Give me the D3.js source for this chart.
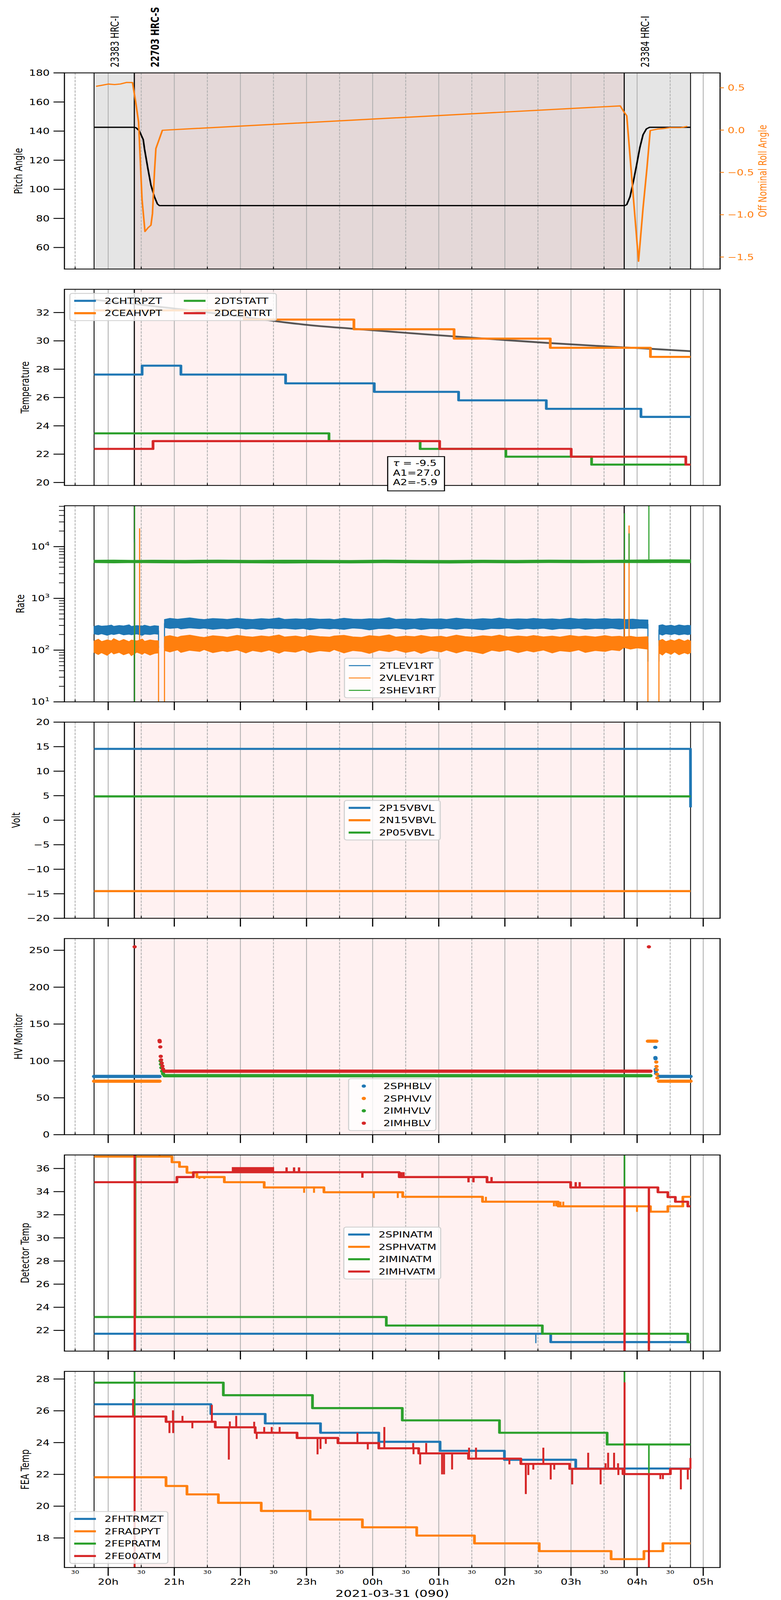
<!DOCTYPE html>
<html>
<head>
<meta charset="utf-8">
<title>HRC monitor</title>
<script src="https://cdn.jsdelivr.net/npm/d3@7/dist/d3.min.js"></script>
<style>
html, body { margin: 0; padding: 0; background: #fff; overflow: hidden; }
svg { display: block; }
text { font-family: "DejaVu Sans", "Noto Sans", sans-serif; }
</style>
</head>
<body>
<svg id="fig" width="2000" height="5400"></svg>
<script>
// all times are minutes after 2021-03-30 20:00 UT
var T0 = Date.UTC(2021, 2, 30, 20, 0, 0);
function tm(m){ return new Date(T0 + m * 60000); }

var T_START = -39.7, T_STOP = 555.3, DATA_END = 528.5;
var OBS = [
  { label: "23383 HRC-I", start: -12.8, stop: 23.6, bold: false },
  { label: "22703 HRC-S", start: 23.85, stop: 468.3, bold: true },
  { label: "23384 HRC-I", start: 468.3, stop: 528.5, bold: false }
];
var Y_LABELS = ["Pitch Angle", "Temperature", "Rate", "Volt", "HV Monitor", "Detector Temp", "FEA Temp"];
var X_LABEL = "2021-03-31 (090)";

// panel 1 : pitch / off nominal roll
var PITCH_T = [-12.8, 23.7, 25.3, 28.2, 31.8, 33.0, 36.1, 38.8, 42.0, 44.7, 46.5, 468.9, 470.6, 473.6, 476.5, 479.5, 482.5, 485.4, 488.4, 491.3, 528.5];
var PITCH_V = [142.6, 142.6, 142.3, 140.2, 134.2, 127.6, 114.0, 102.9, 94.8, 89.9, 88.8, 88.8, 89.5, 94.9, 105.0, 116.5, 128.7, 137.5, 141.5, 142.6, 142.6];
var ROLL_T = [-11.0, 0, 5.8, 11.1, 16.8, 22.1, 25.3, 27.6, 30.7, 33.4, 36.1, 38.8, 40.2, 42.0, 43.3, 45.6, 49.2, 464.7, 467.7, 470.6, 481.3, 485.4, 488.9, 491.9, 498.4, 503.1, 509.6, 519.7, 525.6];
var ROLL_V = [0.517, 0.544, 0.538, 0.545, 0.563, 0.562, 0.303, 0.093, -0.816, -1.199, -1.155, -1.124, -0.986, -0.496, -0.218, -0.134, -0.002, 0.286, 0.222, 0.169, -1.55, -0.92, -0.455, -0.006, 0.012, 0.017, 0.029, 0.029, 0.044];

// panel 2 : temperatures (level changes)
var CHTRPZT = [[-12.8, 27.62], [30.8, 28.25], [66.0, 27.62], [161.0, 27.0], [241.5, 26.4], [318.0, 25.8], [397.6, 25.2], [483.5, 24.63]];
var CEAHVPT = [[-12.8, 32.15], [123.5, 31.5], [223.0, 30.82], [313.9, 30.16], [401.2, 29.51], [492.1, 28.87]];
var DTSTATT = [[-12.8, 23.47], [200.4, 22.92], [283.1, 22.37], [360.9, 21.82], [438.7, 21.26]];
var DCENTRT = [[-12.8, 22.37], [40.7, 22.92], [300.8, 22.37], [420.2, 21.82], [524.2, 21.26]];
var MODEL_T = [-12.8, 24.0, 60.2, 96.3, 146.1, 177.8, 223.0, 286.3, 354.1, 401.2, 444.6, 492.1, 528.5];
var MODEL_V = [32.9, 32.6, 32.28, 31.95, 31.45, 31.15, 30.85, 30.47, 30.09, 29.84, 29.64, 29.44, 29.27];
var FIT_TEXT = ["= -9.5", "A1=27.0", "A2=-5.9"];

// panel 3 : rates, noisy bands as [t, low, high]
var TLEV_A = [[-12.8,205,288],[-9,198,301],[-6,207,291],[-1,193,297],[3,204,306],[5,199,289],[10,209,300],[14,196,294],[19,202,309],[21,197,288],[26,205,299],[31,192,293],[33,203,304],[38,199,287],[42,206,298],[45.7,201,292]];
var TLEV_B = [[51.1,272,392],[56,261,412],[63,270,396],[66,256,404],[74,268,421],[83,259,398],[87,266,392],[95,251,409],[104,263,401],[108,257,394],[117,269,415],[125,254,399],[131,262,392],[139,249,407],[146,266,398],[155,258,419],[160,264,393],[170,253,404],[177,261,397],[183,247,410],[192,265,396],[201,256,402],[205,262,390],[214,250,414],[222,266,399],[230,259,395],[237,245,406],[246,262,400],[255,257,425],[261,266,394],[270,252,403],[278,263,397],[284,248,411],[293,261,398],[302,256,404],[307,266,393],[316,251,416],[324,264,400],[331,257,394],[340,246,408],[348,262,399],[355,258,418],[363,266,395],[372,250,404],[380,263,398],[386,255,411],[395,264,396],[403,249,403],[410,261,394],[419,256,414],[427,265,399],[433,252,405],[442,262,396],[451,257,409],[457,266,398],[464,254,402],[470,262,392],[476,258,399],[482,266,388],[489.8,262,384]];
var TLEV_C = [[499.8,205,300],[503,194,311],[506,206,295],[511,198,304],[514,207,292],[518,196,308],[523,204,297],[526,198,303],[528.5,203,298]];
var VLEV_A = [[-12.8,90,150],[-9,82,163],[-6,89,147],[-1,79,158],[3,92,152],[5,84,167],[10,90,149],[14,81,161],[19,88,146],[21,78,157],[26,91,151],[31,83,164],[33,89,148],[38,80,158],[42,86,153],[45.7,88,152]];
var VLEV_B = [[51.1,98,182],[56,92,191],[63,101,177],[66,90,186],[74,99,195],[83,94,181],[87,102,176],[95,89,190],[104,97,183],[108,93,178],[117,101,194],[125,88,184],[131,98,179],[139,92,189],[146,100,182],[155,87,197],[160,96,180],[170,91,188],[177,101,178],[183,89,192],[192,97,183],[201,93,179],[205,102,188],[214,88,194],[222,98,181],[230,94,177],[237,86,191],[246,99,184],[255,93,198],[261,101,179],[270,90,187],[278,97,182],[284,86,193],[293,99,180],[302,92,186],[307,100,178],[316,88,195],[324,98,183],[331,93,179],[340,85,190],[348,99,184],[355,94,196],[363,101,180],[372,89,188],[380,98,182],[386,92,192],[395,100,181],[403,88,187],[410,97,179],[419,93,193],[427,101,183],[433,90,188],[442,98,180],[451,94,191],[457,101,182],[464,97,186],[468,112,180],[474,104,186],[480,110,178],[489.8,104,182]];
var VLEV_C = [[499.8,88,152],[503,80,162],[506,91,147],[511,83,158],[514,92,151],[518,81,164],[523,89,149],[526,84,159],[528.5,89,150]];
var SHEV = [[-12.8,4880,5480],[5,4820,5520],[24,4900,5450],[40,4850,5500],[70,4800,5460],[100,4870,5530],[130,4820,5440],[160,4780,5500],[190,4850,5470],[220,4800,5420],[250,4870,5510],[280,4830,5460],[310,4790,5430],[340,4860,5500],[370,4820,5450],[400,4880,5520],[430,4840,5470],[460,4900,5500],[490,4860,5560],[510,4900,5600],[528.5,4880,5580]];
// spikes as [t, from, to]
var TLEV_SPIKES = [[24.0, 240, 14000], [45.7, 240, 110], [51.1, 110, 330], [489.8, 320, 60], [499.8, 60, 250]];
var VLEV_SPIKES = [[24.0, 120, 12000], [28.5, 120, 22600], [45.7, 120, 1], [51.1, 1, 140], [468.6, 140, 4900], [472.7, 140, 25600], [489.8, 140, 1], [499.8, 1, 120]];
var SHEV_SPIKES = [[24.0, 1, 1e6], [468.6, 5200, 44000], [472.7, 5200, 18000], [490.7, 5200, 1e6]];

// panel 4 : voltages
var P15VBVL = [[-12.8, 14.55], [528.4, 14.55], [528.5, 2.63]];
var N15VBVL = [[-12.8, -14.46], [528.5, -14.46]];
var P05VBVL = [[-12.8, 4.86], [528.5, 4.86]];

// panel 5 : HV monitors, dense runs [t0, t1, v] and single samples [t, v]
var SPHBLV_RUNS = [[-12.8, 46.6, 79.0], [499.8, 528.5, 79.0]];
var SPHBLV_PTS = [[496.5,118.4],[496.6,104.5],[496.7,103],[496.9,88.5],[497.0,86],[497.2,83]];
var SPHVLV_RUNS = [[-12.8, 46.6, 72.5], [489.8, 497.5, 126.8], [499.8, 528.5, 72.5]];
var SPHVLV_PTS = [[497.4,98.5],[497.6,92.5],[497.8,88],[498.1,82],[498.4,77]];
var IMHVLV_RUNS = [[51.1, 492.1, 80.0]];
var IMHVLV_PTS = [[47.6,100],[47.9,95.5],[48.3,90.8],[49.0,86.1],[49.8,82.5]];
var IMHBLV_RUNS = [[51.1, 492.1, 86.1]];
var IMHBLV_PTS = [[24.0,254.7],[46.6,127.7],[46.8,126.0],[47.3,119.0],[47.7,106.2],[48.0,101.4],[48.6,97.1],[49.2,93.0],[49.8,89.0],[490.7,254.7]];

// panel 6 : detector temps (levels + spikes [t, v])
var SPINATM = [[-12.8, 21.71], [401.6, 20.99]];
var SPINATM_SPK = [[24.9, 0], [388.1, 20.9]];
var SPHVATM = [[-12.8,37.03],[57.9,36.55],[64.7,36.15],[71.5,35.64],[80.5,35.26],[105.4,34.82],[141.6,34.36],[195.8,33.95],[267.3,33.55],[339.7,33.13],[408.4,32.73],[492.1,32.27],[507.9,32.73],[521.5,33.55]];
var SPHVATM_SPK = [[46.6,37.6],[82.8,35.1],[87.3,35.1],[177.8,33.9],[186.8,33.9],[241.1,33.45],[262.8,33.45],[342.8,33.55],[404.5,32.73],[406.5,32.73],[410.5,33.13],[413,33.13],[479.9,32.25]];
var IMINATM = [[-12.8, 23.16], [252.4, 22.42], [394.0, 21.71], [526.0, 20.99]];
var IMINATM_SPK = [[24.9, 45], [468.6, 45]];
var IMHVATM = [[-12.8,34.82],[62.4,35.26],[77.3,35.68],[264.1,35.26],[343.8,34.82],[419.7,34.36],[498.9,33.95],[507.9,33.53],[514.7,33.13],[526.0,32.73]];
var IMHVATM_SPK = [[24.0,45],[24.1,0],[161.9,36.1],[168.7,36.1],[173.2,36.1],[230.7,35.2],[266,35.68],[268,35.68],[327.0,34.8],[331.5,34.8],[347.9,35.26],[424.3,34.82],[427.9,34.82],[468.6,0],[490.7,0]];
var IMHVATM_NOISE = [[112.2, 150.6, 35.62, 36.12]];

// panel 7 : FEA temps
var FHTRMZT = [[-12.8,26.41],[93.2,25.80],[142.5,25.21],[192.7,24.62],[245.6,24.05],[301.2,23.48],[359.6,22.92],[424.3,22.37]];
var FRADPYT = [[-12.8,21.82],[52.5,21.27],[71.5,20.74],[100.0,20.21],[138.9,19.70],[183.2,19.16],[230.7,18.67],[280.0,18.15],[332.4,17.66],[391.2,17.17],[456.4,16.67],[486.2,17.17],[503.4,17.66]];
var FEPRATM = [[-12.8,27.77],[104.5,26.98],[185.4,26.17],[266.9,25.40],[355.1,24.62],[452.8,23.88]];
var FEPRATM_SPK = [[24.0,29.5],[24.1,10],[468.6,29.5],[490.7,22.07]];
var FE00ATM = [[-12.8,25.64],[52.5,25.31],[97.2,24.96],[133.4,24.62],[171.4,24.29],[208.5,23.97],[245.6,23.64],[281.8,23.32],[327.0,22.99],[374.5,22.66],[418.8,22.35],[467.2,22.02],[510.2,22.35]];
var FE00ATM_SPK = [[22.6,26.74],[24.0,10],[55.6,24.6],[58.8,26.03],[59.0,24.6],[67.4,25.68],[76.4,24.9],[94.1,26.37],[109.5,22.93],[110.4,25.33],[116.2,25.68],[132.5,25.31],[134.8,24.23],[141.6,24.98],[148.4,24.98],[155.6,24.98],[190.0,23.26],[192.7,23.6],[197.2,24.34],[197.5,23.92],[226.2,24.62],[235.6,23.57],[250.6,24.98],[276.8,23.97],[277.1,23.27],[283.1,22.63],[288.6,23.97],[303.0,22.0],[304.8,22.0],[312.1,22.31],[327.5,23.68],[333.8,23.68],[364.1,22.63],[379.0,20.76],[381.3,21.96],[385.8,22.3],[394.9,23.68],[401.6,21.68],[404.8,22.3],[421.1,21.37],[435.6,23.36],[446.9,21.37],[451.4,22.7],[453.7,23.36],[459.1,23.36],[462.7,22.7],[463.0,21.96],[468.6,27.79],[490.7,10],[501.1,21.7],[503.4,21.7],[519.7,21.06],[526.0,21.68],[528.4,23.03]];

// ---------- layout ----------
var LEFT = 165, RIGHT = 1844, TOP0 = 246, PH = 662, STEP = 730.4;
var FS = 27.8, TICK = 28, PAD = 9.7;
var BLUE = "#1f77b4", ORANGE = "#ff7f0e", GREEN = "#2ca02c", RED = "#d62728";

var svg = d3.select("#fig");
// the drawing is laid out on a 2000x5400 grid; stretch it onto the real viewport
var VW = window.innerWidth || 2000, VH = window.innerHeight || 5400;
svg.attr("viewBox", "0 0 2000 5400").attr("preserveAspectRatio", "none").attr("width", VW).attr("height", VH);
var defs = svg.append("defs");
var x = d3.scaleUtc().domain([tm(T_START), tm(T_STOP)]).range([LEFT, RIGHT]);
var halfHours = x.ticks(d3.utcMinute.every(30));
function X(t){ return x(tm(t)); }

function makePanel(i, y){
  var top = TOP0 + i * STEP, bot = top + PH;
  y.range([bot, top]);
  var g = svg.append("g");
  OBS.forEach(function(o){
    var fill = i === 0 ? (o.bold ? "#e4d8d8" : "#e5e5e5") : (o.bold ? "#fff1f1" : null);
    if (!fill) return;
    g.append("rect").attr("x", X(o.start)).attr("y", top)
      .attr("width", X(o.stop) - X(o.start)).attr("height", PH).attr("fill", fill);
  });
  halfHours.forEach(function(d){
    var onHour = d.getUTCMinutes() === 0;
    g.append("line").attr("x1", x(d)).attr("x2", x(d)).attr("y1", top).attr("y2", bot)
      .attr("stroke", "#b0b0b0").attr("stroke-width", 2.2)
      .attr("stroke-dasharray", onHour ? null : "8.2,3.6");
  });
  OBS.forEach(function(o){
    [o.start, o.stop].forEach(function(t){
      g.append("line").attr("x1", X(t)).attr("x2", X(t)).attr("y1", top).attr("y2", bot)
        .attr("stroke", "#000").attr("stroke-width", 2.2);
    });
  });
  var cid = "clip" + i;
  defs.append("clipPath").attr("id", cid).append("rect")
    .attr("x", LEFT).attr("y", top).attr("width", RIGHT - LEFT).attr("height", PH);
  var plot = g.append("g").attr("clip-path", "url(#" + cid + ")");
  return { i: i, g: g, plot: plot, top: top, bot: bot, y: y };
}

function finish(p, majorTicks, labels){
  var g = p.g;
  g.append("rect").attr("x", LEFT).attr("y", p.top).attr("width", RIGHT - LEFT).attr("height", PH)
    .attr("fill", "none").attr("stroke", "#000").attr("stroke-width", 2.8);
  halfHours.forEach(function(d){
    var onHour = d.getUTCMinutes() === 0;
    if (!onHour) {
      g.append("line").attr("x1", x(d)).attr("x2", x(d)).attr("y1", p.bot - 8).attr("y2", p.bot)
        .attr("stroke", "#000").attr("stroke-width", 2.2);
      if (labels) g.append("text").attr("x", x(d)).attr("y", p.bot + PAD + 12.2)
        .attr("text-anchor", "middle").attr("font-size", 16.7).text(d3.utcFormat("%M")(d));
    } else {
      if (majorTicks) g.append("line").attr("x1", x(d)).attr("x2", x(d)).attr("y1", p.bot).attr("y2", p.bot + TICK)
        .attr("stroke", "#000").attr("stroke-width", 3);
      if (labels) g.append("text").attr("x", x(d)).attr("y", p.bot + TICK + PAD + 20.3)
        .attr("text-anchor", "middle").attr("font-size", FS).text(d3.utcFormat("%Hh")(d));
    }
  });
}

function yAxis(p, ticks, fmt, label, minor){
  var ax = p.g.append("g");
  if (minor) minor.forEach(function(v){
    ax.append("line").attr("x1", LEFT - 14).attr("x2", LEFT).attr("y1", p.y(v)).attr("y2", p.y(v))
      .attr("stroke", "#000").attr("stroke-width", 2.2);
  });
  ticks.forEach(function(v){
    var yy = p.y(v);
    ax.append("line").attr("x1", LEFT - TICK).attr("x2", LEFT).attr("y1", yy).attr("y2", yy)
      .attr("stroke", "#000").attr("stroke-width", 3);
    var t = ax.append("text").attr("class", "tl").attr("x", LEFT - TICK - PAD).attr("y", yy).attr("dy", "0.36em")
      .attr("text-anchor", "end").attr("font-size", FS);
    fmt(t, v);
  });
  var minX = d3.min(ax.selectAll("text.tl").nodes(), function(n){ return n.getBBox().x; });
  p.g.append("text").attr("transform", "translate(" + (minX - 17.6) + "," + ((p.top + p.bot) / 2) + ") rotate(-90)")
    .attr("text-anchor", "middle").attr("font-size", FS).text(label);
}

function numFmt(dec){
  return function(sel, v){ sel.text((v < 0 ? "\u2212" : "") + Math.abs(v).toFixed(dec)); };
}

function legend(p, items, loc, ncol){
  ncol = ncol || 1;
  var pad = 0.4 * FS, hl = 2 * FS, htp = 0.8 * FS, ls = 0.5 * FS, csp = 2 * FS, ba = 0.5 * FS;
  var nrow = Math.ceil(items.length / ncol);
  var lg = p.g.append("g");
  var box = lg.append("rect");
  var texts = items.map(function(it){ return lg.append("text").attr("font-size", FS).text(it.label); });
  var widths = texts.map(function(t){ return t.node().getComputedTextLength(); });
  var colW = [];
  for (var c = 0; c < ncol; c++) colW.push(d3.max(widths.slice(c * nrow, (c + 1) * nrow)));
  var W = 2 * pad + d3.sum(colW, function(w){ return hl + htp + w; }) + (ncol - 1) * csp;
  var H = 2 * pad + nrow * FS + (nrow - 1) * ls;
  var bx, by;
  if (loc === "upper left") { bx = LEFT + ba; by = p.top + ba; }
  else if (loc === "lower left") { bx = LEFT + ba; by = p.bot - ba - H; }
  else if (loc === "lower center") { bx = (LEFT + RIGHT) / 2 - W / 2; by = p.bot - ba - H; }
  else { bx = (LEFT + RIGHT) / 2 - W / 2; by = (p.top + p.bot) / 2 - H / 2; }
  box.attr("x", bx).attr("y", by).attr("width", W).attr("height", H).attr("rx", 6)
    .attr("fill", "#fff").attr("fill-opacity", 0.8).attr("stroke", "#d0d0d0").attr("stroke-width", 2.8);
  items.forEach(function(it, k){
    var col = Math.floor(k / nrow), row = k % nrow;
    var cx = bx + pad;
    for (var j = 0; j < col; j++) cx += hl + htp + colW[j] + csp;
    var cy = by + pad + row * (FS + ls) + FS / 2;
    if (it.dot) lg.append("circle").attr("cx", cx + hl / 2).attr("cy", cy).attr("r", 5.5).attr("fill", it.color);
    else lg.append("line").attr("x1", cx).attr("x2", cx + hl).attr("y1", cy).attr("y2", cy)
      .attr("stroke", it.color).attr("stroke-width", it.width);
    texts[k].attr("x", cx + hl + htp).attr("y", cy).attr("dy", "0.36em");
  });
}

function linePath(p, pts, y, color, w, curve){
  p.plot.append("path").datum(pts)
    .attr("d", d3.line().x(function(d){ return X(d[0]); }).y(function(d){ return y(d[1]); }).curve(curve || d3.curveLinear))
    .attr("fill", "none").attr("stroke", color).attr("stroke-width", w).attr("stroke-linejoin", "round");
}
function steps(p, lv, color, w){
  linePath(p, lv.concat([[DATA_END, lv[lv.length - 1][1]]]), p.y, color, w, d3.curveStepAfter);
}
function levelAt(lv, t){
  var v = lv[0][1];
  lv.forEach(function(d){ if (d[0] <= t) v = d[1]; });
  return v;
}
function spikes(p, lv, spk, color, w){
  spk.forEach(function(s){
    p.plot.append("line").attr("x1", X(s[0])).attr("x2", X(s[0]))
      .attr("y1", p.y(levelAt(lv, s[0]))).attr("y2", p.y(s[1]))
      .attr("stroke", color).attr("stroke-width", w);
  });
}
function zip(ts, vs){ return ts.map(function(t, k){ return [t, vs[k]]; }); }

// ---------- panel 1 ----------
var p1 = makePanel(0, d3.scaleLinear().domain([45.2, 180]));
var yR = d3.scaleLinear().domain([-1.642, 0.676]).range([p1.bot, p1.top]);
linePath(p1, zip(PITCH_T, PITCH_V), p1.y, "#000", 4.2);
linePath(p1, zip(ROLL_T, ROLL_V), yR, ORANGE, 4.2);
finish(p1, false, false);
yAxis(p1, [60, 80, 100, 120, 140, 160, 180], numFmt(0), Y_LABELS[0]);
(function(){
  var ax = p1.g.append("g"), maxR = 0;
  [0.5, 0, -0.5, -1.0, -1.5].forEach(function(v){
    ax.append("line").attr("x1", RIGHT).attr("x2", RIGHT + 9.7).attr("y1", yR(v)).attr("y2", yR(v))
      .attr("stroke", ORANGE).attr("stroke-width", 2.8);
    var t = ax.append("text").attr("x", RIGHT + 9.7 + PAD).attr("y", yR(v)).attr("dy", "0.36em")
      .attr("font-size", FS).attr("fill", ORANGE);
    numFmt(1)(t, v);
    maxR = Math.max(maxR, RIGHT + 9.7 + PAD + t.node().getComputedTextLength());
  });
  p1.g.append("text").attr("transform", "translate(" + (maxR + 32) + "," + ((p1.top + p1.bot) / 2) + ") rotate(-90)")
    .attr("text-anchor", "middle").attr("font-size", FS).attr("fill", ORANGE).text("Off Nominal Roll Angle");
})();
OBS.forEach(function(o){
  svg.append("text").attr("transform", "translate(" + (X(o.start) + 53.5) + ",227) rotate(-90)")
    .attr("text-anchor", "start").attr("dominant-baseline", "central").attr("font-size", FS)
    .attr("font-weight", o.bold ? "bold" : "normal").text(o.label);
});

// ---------- panel 2 ----------
var p2 = makePanel(1, d3.scaleLinear().domain([19.79, 33.64]));
p2.plot.append("path").datum(zip(MODEL_T, MODEL_V))
  .attr("d", d3.line().x(function(d){ return X(d[0]); }).y(function(d){ return p2.y(d[1]); }).curve(d3.curveMonotoneX))
  .attr("fill", "none").attr("stroke", "#3a3a3a").attr("stroke-opacity", 0.85).attr("stroke-width", 6);
steps(p2, CHTRPZT, BLUE, 7);
steps(p2, CEAHVPT, ORANGE, 7);
steps(p2, DTSTATT, GREEN, 7);
steps(p2, DCENTRT, RED, 7);
finish(p2, false, false);
yAxis(p2, [20, 22, 24, 26, 28, 30, 32], numFmt(0), Y_LABELS[1]);
legend(p2, [{label:"2CHTRPZT", color:BLUE, width:7}, {label:"2CEAHVPT", color:ORANGE, width:7},
            {label:"2DTSTATT", color:GREEN, width:7}, {label:"2DCENTRT", color:RED, width:7}], "upper left", 2);
(function(){
  var bx = 992.8, by = p2.bot - 97.4;
  var g = svg.append("g");
  g.append("rect").attr("x", bx).attr("y", by).attr("width", 145.4).attr("height", 115.7)
    .attr("fill", "#fff").attr("stroke", "#000").attr("stroke-width", 2.8);
  FIT_TEXT.forEach(function(s, k){
    var t = g.append("text").attr("x", bx + 13.5).attr("y", by + 32.3 + k * 32).attr("font-size", FS);
    if (k === 0) { t.append("tspan").attr("font-style", "italic").text("\u03c4"); t.append("tspan").text(" " + s); }
    else t.text(s);
  });
})();

// ---------- panel 3 ----------
var p3 = makePanel(2, d3.scaleLog().domain([10, 61700]));
function band(p, pts, color){
  p.plot.append("path").datum(pts)
    .attr("d", d3.area().x(function(d){ return X(d[0]); }).y0(function(d){ return p.y(d[1]); }).y1(function(d){ return p.y(d[2]); }))
    .attr("fill", color).attr("stroke", color).attr("stroke-width", 2).attr("stroke-linejoin", "miter");
}
function rawSpikes(p, spk, color, w){
  spk.forEach(function(s){
    p.plot.append("line").attr("x1", X(s[0])).attr("x2", X(s[0])).attr("y1", p.y(s[1])).attr("y2", p.y(s[2]))
      .attr("stroke", color).attr("stroke-width", w);
  });
}
[TLEV_A, TLEV_B, TLEV_C].forEach(function(s){ band(p3, s, BLUE); });
rawSpikes(p3, TLEV_SPIKES, BLUE, 2.8);
[VLEV_A, VLEV_B, VLEV_C].forEach(function(s){ band(p3, s, ORANGE); });
rawSpikes(p3, VLEV_SPIKES, ORANGE, 2.8);
band(p3, SHEV, GREEN);
rawSpikes(p3, SHEV_SPIKES, GREEN, 2.8);
finish(p3, true, false);
var logMinor = [];
[10, 100, 1000, 10000].forEach(function(b){ for (var k = 2; k <= 9; k++) if (b * k < 61700) logMinor.push(b * k); });
yAxis(p3, [10, 100, 1000, 10000], function(sel, v){
  sel.text("10");
  sel.append("tspan").attr("font-size", FS * 0.7).attr("dy", -0.45 * FS).text(Math.round(Math.log10(v)));
}, Y_LABELS[2], logMinor);
legend(p3, [{label:"2TLEV1RT", color:BLUE, width:3}, {label:"2VLEV1RT", color:ORANGE, width:3},
            {label:"2SHEV1RT", color:GREEN, width:3}], "lower center");

// ---------- panel 4 ----------
var p4 = makePanel(3, d3.scaleLinear().domain([-20, 20]));
linePath(p4, P15VBVL, p4.y, BLUE, 7);
linePath(p4, N15VBVL, p4.y, ORANGE, 7);
linePath(p4, P05VBVL, p4.y, GREEN, 7);
finish(p4, true, false);
yAxis(p4, [-20, -15, -10, -5, 0, 5, 10, 15, 20], numFmt(0), Y_LABELS[3]);
legend(p4, [{label:"2P15VBVL", color:BLUE, width:7}, {label:"2N15VBVL", color:ORANGE, width:7},
            {label:"2P05VBVL", color:GREEN, width:7}], "center");

// ---------- panel 5 ----------
var p5 = makePanel(4, d3.scaleLinear().domain([0, 265.9]));
function samples(p, runs, pts, color){
  runs.forEach(function(r){
    p.plot.append("line").attr("x1", X(r[0])).attr("x2", X(r[1])).attr("y1", p.y(r[2])).attr("y2", p.y(r[2]))
      .attr("stroke", color).attr("stroke-width", 11).attr("stroke-linecap", "round");
  });
  p.plot.selectAll(null).data(pts).enter().append("circle")
    .attr("cx", function(d){ return X(d[0]); }).attr("cy", function(d){ return p.y(d[1]); })
    .attr("r", 5.5).attr("fill", color);
}
samples(p5, SPHBLV_RUNS, SPHBLV_PTS, BLUE);
samples(p5, SPHVLV_RUNS, SPHVLV_PTS, ORANGE);
samples(p5, IMHVLV_RUNS, IMHVLV_PTS, GREEN);
samples(p5, IMHBLV_RUNS, IMHBLV_PTS, RED);
finish(p5, true, false);
yAxis(p5, [0, 50, 100, 150, 200, 250], numFmt(0), Y_LABELS[4]);
legend(p5, [{label:"2SPHBLV", color:BLUE, dot:true}, {label:"2SPHVLV", color:ORANGE, dot:true},
            {label:"2IMHVLV", color:GREEN, dot:true}, {label:"2IMHBLV", color:RED, dot:true}], "lower center");

// ---------- panel 6 ----------
var p6 = makePanel(5, d3.scaleLinear().domain([20.21, 37.17]));
steps(p6, SPINATM, BLUE, 7); spikes(p6, SPINATM, SPINATM_SPK, BLUE, 3);
steps(p6, SPHVATM, ORANGE, 7); spikes(p6, SPHVATM, SPHVATM_SPK, ORANGE, 5);
steps(p6, IMINATM, GREEN, 7); spikes(p6, IMINATM, IMINATM_SPK, GREEN, 4);
steps(p6, IMHVATM, RED, 7); spikes(p6, IMHVATM, IMHVATM_SPK, RED, 6);
IMHVATM_NOISE.forEach(function(n){
  p6.plot.append("rect").attr("x", X(n[0])).attr("width", X(n[1]) - X(n[0]))
    .attr("y", p6.y(n[3])).attr("height", p6.y(n[2]) - p6.y(n[3])).attr("fill", RED);
});
finish(p6, true, false);
yAxis(p6, [22, 24, 26, 28, 30, 32, 34, 36], numFmt(0), Y_LABELS[5]);
legend(p6, [{label:"2SPINATM", color:BLUE, width:7}, {label:"2SPHVATM", color:ORANGE, width:7},
            {label:"2IMINATM", color:GREEN, width:7}, {label:"2IMHVATM", color:RED, width:7}], "center");

// ---------- panel 7 ----------
var p7 = makePanel(6, d3.scaleLinear().domain([16.14, 28.48]));
steps(p7, FHTRMZT, BLUE, 7);
steps(p7, FRADPYT, ORANGE, 7);
steps(p7, FEPRATM, GREEN, 7); spikes(p7, FEPRATM, FEPRATM_SPK, GREEN, 4);
steps(p7, FE00ATM, RED, 7); spikes(p7, FE00ATM, FE00ATM_SPK, RED, 5);
finish(p7, true, true);
yAxis(p7, [18, 20, 22, 24, 26, 28], numFmt(0), Y_LABELS[6]);
legend(p7, [{label:"2FHTRMZT", color:BLUE, width:7}, {label:"2FRADPYT", color:ORANGE, width:7},
            {label:"2FEPRATM", color:GREEN, width:7}, {label:"2FE00ATM", color:RED, width:7}], "lower left");
svg.append("text").attr("x", (LEFT + RIGHT) / 2).attr("y", 5390).attr("text-anchor", "middle")
  .attr("font-size", 33).text(X_LABEL);
</script>
</body>
</html>
